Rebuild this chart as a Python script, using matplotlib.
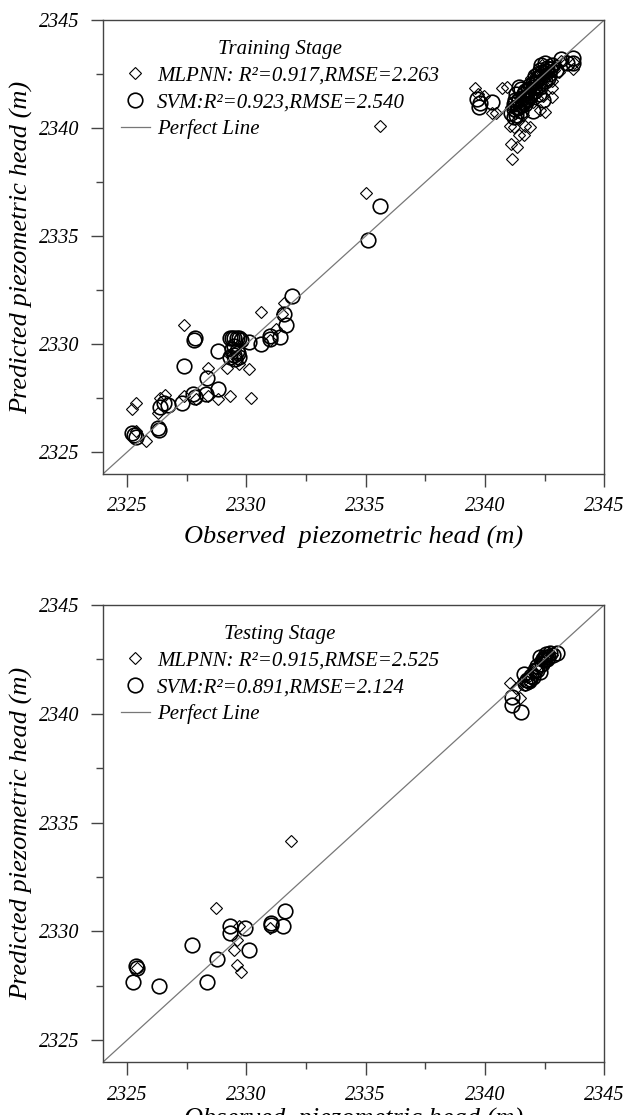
import numpy as np
import matplotlib
matplotlib.use("Agg")
import matplotlib.pyplot as plt
from matplotlib.ticker import MultipleLocator

plt.rcParams['font.family'] = ['Liberation Serif', 'DejaVu Serif']
plt.rcParams['font.style'] = 'italic'

# ---- training stage ----
train_mlp_x = [2325.2, 2325.4, 2325.4, 2325.8, 2326.4, 2326.6, 2326.3, 2327.4, 2327.4, 2327.9,
               2328.4, 2328.4, 2328.8, 2329.2, 2329.3, 2329.7, 2330.1, 2330.2, 2330.6, 2331.25,
               2331.6, 2331.5, 2331.0, 2329.35, 2329.6, 2335.0, 2335.6,
               2339.6, 2339.7, 2339.95, 2340.3, 2340.45, 2340.7, 2340.93, 2341.05, 2341.2, 2341.1,
               2341.35, 2341.15, 2341.45, 2341.62, 2341.7, 2341.9, 2342.3, 2342.53, 2342.45, 2342.8,
               2342.81, 2342.81, 2343.2, 2343.7, 2343.75,
               2341.1, 2341.2, 2341.3, 2341.4, 2341.5, 2341.6, 2341.7, 2341.8, 2341.9, 2342.0,
               2342.1, 2342.2, 2342.3, 2342.4, 2342.5, 2342.6, 2342.7, 2342.9, 2343.0, 2343.1,
               2342.2, 2341.6, 2341.4, 2342.0,
               2341.3, 2341.5, 2341.7, 2341.9, 2342.1, 2342.3, 2342.5, 2342.7, 2342.4, 2342.6,
               2341.5, 2341.8, 2342.05, 2342.35, 2342.55, 2342.15, 2341.95, 2341.25, 2342.75, 2343.3]
train_mlp_y = [2327.0, 2327.3, 2326.0, 2325.5, 2327.5, 2327.65, 2326.8, 2330.9, 2327.6, 2327.45,
               2328.9, 2327.6, 2327.45, 2328.9, 2327.6, 2329.1, 2328.85, 2327.5, 2331.5, 2330.7,
               2331.9, 2331.4, 2330.2, 2329.45, 2329.3, 2337.0, 2340.1,
               2341.85, 2341.6, 2341.5, 2340.7, 2340.7, 2341.85, 2341.9, 2340.1, 2340.06, 2339.25,
               2339.13, 2338.55, 2339.7, 2339.68, 2340.1, 2340.06, 2340.85, 2340.75, 2341.5, 2342.2,
               2341.45, 2341.84, 2343.1, 2342.75, 2343.0,
               2341.0, 2341.3, 2340.8, 2341.5, 2341.1, 2341.7, 2341.3, 2341.9, 2341.6, 2342.1,
               2341.8, 2342.4, 2342.0, 2342.6, 2342.3, 2342.8, 2342.5, 2342.7, 2342.9, 2342.6,
               2341.4, 2340.6, 2340.4, 2341.2,
               2341.1, 2341.4, 2341.5, 2341.8, 2342.0, 2342.2, 2342.5, 2342.7, 2342.9, 2342.6,
               2340.9, 2341.2, 2341.55, 2341.9, 2342.15, 2342.6, 2342.3, 2340.7, 2342.95, 2342.9]

train_svm_x = [2325.3, 2325.4, 2325.2, 2326.3, 2326.35, 2326.4, 2326.55, 2326.73, 2327.3, 2327.4,
               2327.85, 2327.8, 2327.75, 2327.85, 2328.35, 2328.3, 2328.8, 2328.8,
               2329.3, 2329.5, 2329.7, 2329.3, 2329.4, 2329.5, 2329.6, 2329.7, 2329.5, 2329.4,
               2329.6, 2329.8, 2329.55, 2329.65,
               2330.1, 2330.6, 2331.0, 2331.0, 2331.4, 2331.6, 2331.65, 2331.9, 2335.1, 2335.6,
               2339.65, 2339.75, 2339.8, 2340.3, 2341.1, 2341.2, 2341.25, 2341.3, 2341.3, 2341.4,
               2341.5, 2341.5, 2341.6, 2341.7, 2341.8, 2341.9, 2342.0, 2342.0, 2342.1, 2342.2,
               2342.3, 2342.4, 2342.45, 2342.5, 2342.6, 2342.7, 2342.8, 2343.0, 2343.2, 2343.45,
               2343.7, 2343.7, 2342.3, 2342.1, 2341.9, 2341.7,
               2341.2, 2341.35, 2341.45, 2341.55, 2341.65, 2341.75, 2341.85, 2342.05, 2342.15,
               2342.25, 2342.35, 2342.55, 2342.65, 2342.75, 2342.35, 2342.5, 2341.45, 2341.2]
train_svm_y = [2325.8, 2325.7, 2325.9, 2326.1, 2326.05, 2327.1, 2327.3, 2327.18, 2327.3, 2329.0,
               2330.3, 2330.2, 2327.7, 2327.55, 2328.45, 2327.7, 2329.7, 2327.95,
               2330.3, 2330.3, 2330.3, 2329.4, 2329.8, 2329.5, 2329.7, 2329.4, 2329.9, 2330.3,
               2330.3, 2330.2, 2329.3, 2329.6,
               2330.1, 2330.0, 2330.4, 2330.25, 2330.35, 2331.4, 2330.9, 2332.25, 2334.8, 2336.4,
               2341.35, 2341.0, 2341.15, 2341.2, 2340.7, 2340.9, 2341.3, 2341.6, 2340.6, 2341.0,
               2341.8, 2340.8, 2341.4, 2341.1, 2341.8, 2341.5, 2342.1, 2340.8, 2341.7, 2342.3,
               2341.9, 2342.6, 2341.3, 2342.2, 2342.8, 2342.5, 2342.9, 2342.7, 2343.2, 2343.0,
               2343.25, 2343.0, 2342.7, 2342.4, 2342.0, 2341.7,
               2340.5, 2341.0, 2341.3, 2341.05, 2341.6, 2341.3, 2341.55, 2341.9, 2342.15,
               2341.6, 2342.4, 2342.65, 2342.3, 2342.75, 2342.9, 2343.0, 2341.9, 2341.1]

# ---- testing stage ----
test_mlp_x = [2328.74, 2331.89, 2329.6, 2329.5, 2329.63, 2329.8, 2329.7, 2325.44, 2331.0,
              2341.06, 2341.48, 2341.3, 2341.6, 2341.8, 2342.0, 2342.2, 2342.4, 2342.6, 2342.8,
              2342.5, 2341.9, 2342.3, 2342.55, 2342.7, 2341.7, 2342.1]
test_mlp_y = [2331.08, 2334.15, 2329.6, 2329.14, 2328.48, 2328.15, 2330.25, 2328.32, 2330.17,
              2341.42, 2340.73, 2341.2, 2341.5, 2341.7, 2341.9, 2342.2, 2342.4, 2342.6, 2342.7,
              2342.3, 2341.4, 2342.5, 2342.55, 2342.8, 2341.3, 2341.8]

test_svm_x = [2325.27, 2325.39, 2325.44, 2326.36, 2327.73, 2328.35, 2328.77, 2329.33, 2329.33,
              2329.96, 2330.11, 2331.02, 2331.05, 2331.54, 2331.64,
              2341.14, 2341.14, 2341.53, 2341.65, 2341.7, 2341.85, 2342.0, 2342.1, 2342.3, 2342.4,
              2342.5, 2342.6, 2342.74, 2343.02, 2342.46, 2342.18, 2341.9,
              2342.3, 2342.45, 2342.55, 2342.65, 2342.85, 2342.2, 2341.95, 2341.75]
test_svm_y = [2327.68, 2328.4, 2328.32, 2327.51, 2329.38, 2327.68, 2328.73, 2330.25, 2329.93,
              2330.14, 2329.14, 2330.38, 2330.29, 2330.25, 2330.96,
              2340.76, 2340.39, 2340.06, 2341.83, 2341.4, 2341.5, 2341.7, 2342.0, 2341.9, 2342.3,
              2342.6, 2342.5, 2342.78, 2342.78, 2342.47, 2342.0, 2341.6,
              2342.6, 2342.5, 2342.75, 2342.6, 2342.7, 2342.2, 2341.75, 2341.55]

panels = [
    ("Training Stage", "MLPNN: R²=0.917,RMSE=2.263", "SVM:R²=0.923,RMSE=2.540",
     train_mlp_x, train_mlp_y, train_svm_x, train_svm_y),
    ("Testing Stage", "MLPNN: R²=0.915,RMSE=2.525", "SVM:R²=0.891,RMSE=2.124",
     test_mlp_x, test_mlp_y, test_svm_x, test_svm_y),
]
lims = (2324, 2345)

fig = plt.figure(figsize=(6.32, 11.15), dpi=100)
positions = [[0.163, 0.575, 0.793, 0.407], [0.163, 0.0475, 0.793, 0.410]]
xlabel_pads = [7, 2]

for pos, pad, (title, lab1, lab2, mx, my, sx, sy) in zip(positions, xlabel_pads, panels):
    ax = fig.add_axes(pos)
    ax.plot(mx, my, linestyle='none', marker='D', markersize=6.5, markerfacecolor='none',
            markeredgecolor='black', markeredgewidth=0.8, label=lab1)
    ax.plot(sx, sy, linestyle='none', marker='o', markersize=10.5, markerfacecolor='none',
            markeredgecolor='black', markeredgewidth=1.2, label=lab2)
    ax.plot(lims, lims, color='#777777', linewidth=0.9, label='Perfect Line')
    ax.set_xlim(lims)
    ax.set_ylim(lims)
    ax.xaxis.set_major_locator(MultipleLocator(5))
    ax.yaxis.set_major_locator(MultipleLocator(5))
    ax.xaxis.set_minor_locator(MultipleLocator(2.5))
    ax.yaxis.set_minor_locator(MultipleLocator(2.5))
    ax.tick_params(which='major', direction='out', length=9, width=1, labelsize=14.5,
                   color='#444444', pad=8)
    ax.tick_params(which='minor', direction='out', length=5, width=1, color='#444444')
    for sp in ax.spines.values():
        sp.set_color('#444444')
        sp.set_linewidth(1.0)
    ax.set_xlabel("Observed  piezometric head (m)", fontsize=19, labelpad=pad)
    ax.set_ylabel("Predicted piezometric head (m)", fontsize=19, labelpad=4)
    leg = ax.legend(loc='upper left', bbox_to_anchor=(0.01, 0.983), frameon=False,
                    title=title, fontsize=15, title_fontsize=15, handlelength=1.4,
                    handletextpad=0.35, labelspacing=0.33, borderaxespad=0.2)
    leg.get_title().set_style('italic')

fig.savefig("out.png", dpi=100)
